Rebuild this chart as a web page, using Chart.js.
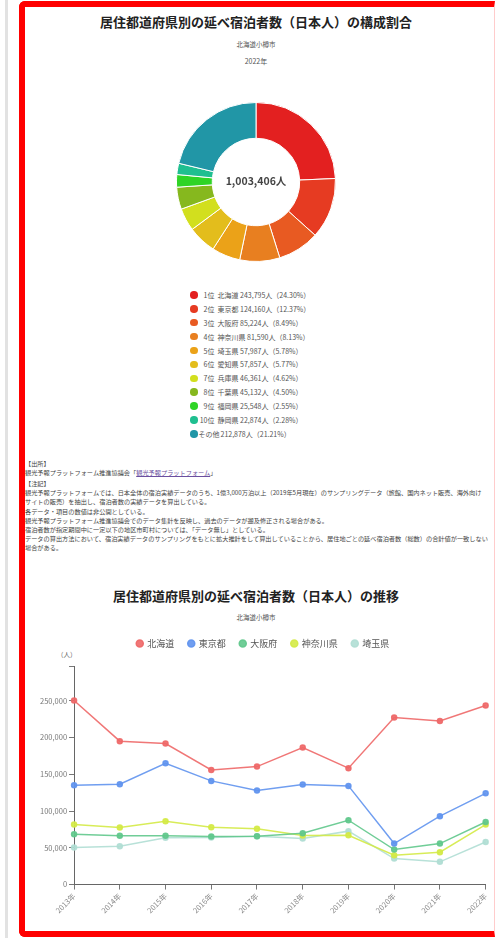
<!DOCTYPE html>
<html lang="ja">
<head>
<meta charset="utf-8">
<script src="https://cdn.jsdelivr.net/npm/chart.js@4.4.1/dist/chart.umd.min.js"></script>
<style>
  html, body { margin:0; padding:0; background:#fff; }
  body { width:495px; height:938px; position:relative; overflow:hidden; font-family:"Noto Sans CJK JP","Noto Sans",sans-serif; color:#333; }
  .gray-rule { position:absolute; left:5px; top:0; width:3px; height:938px; background:#e2e2e2; }
  .frame { position:absolute; left:19px; top:1px; width:469px; height:924px; border:6px solid #ff0000; border-right:1px solid #ffcccc; border-radius:6px 0 0 6px; }
  .abs { position:absolute; white-space:nowrap; }
  .title { left:25px; width:462px; text-align:center; font-weight:bold; font-size:13px; line-height:16px; color:#222; }
  .sub { left:25px; width:462px; text-align:center; font-size:6.5px; line-height:8px; color:#555; }
  #donutWrap { position:absolute; left:176px; top:102px; width:160px; height:160px; }
  #centerText { position:absolute; left:176px; top:174px; width:160px; text-align:center; font-weight:bold; font-size:10.5px; line-height:14px; color:#444; }
  #pieLegend { position:absolute; left:190px; top:288px; font-size:7px; color:#555; }
  #pieLegend .row { height:13.9px; display:flex; align-items:center; white-space:nowrap; }
  #pieLegend .dot { width:7.5px; height:7.5px; border-radius:50%; margin-right:2px; flex:none; }
  #pieLegend .rank { display:inline-block; width:15px; text-align:right; flex:none; }
  #pieLegend .rest { margin-left:3px; }
  #notes { position:absolute; left:25px; top:459px; font-size:6.2px; line-height:9.2px; color:#444; }
  #notes div { white-space:nowrap; }
  #notes a { color:#6b4fa0; text-decoration:underline; }
  #lineWrap { position:absolute; left:20px; top:625px; width:474px; height:292px; }
  #unit { position:absolute; left:57px; top:650px; font-size:6.5px; line-height:8px; color:#666; }
</style>
</head>
<body>
<div class="gray-rule"></div>
<div class="frame"></div>

<div class="abs title" style="top:14px;">居住都道府県別の延べ宿泊者数（日本人）の構成割合</div>
<div class="abs sub" style="top:40px;">北海道小樽市</div>
<div class="abs sub" style="top:57px; font-size:7px;">2022年</div>

<div id="donutWrap"><canvas id="donut" width="160" height="160"></canvas></div>
<div id="centerText"></div>
<div id="pieLegend"></div>

<div id="notes">
  <div>【出所】</div>
  <div>観光予報プラットフォーム推進協議会「<a>観光予報プラットフォーム</a>」</div>
  <div style="margin-top:1.5px;">【注記】</div>
  <div>観光予報プラットフォームでは、日本全体の宿泊実績データのうち、1億3,000万泊以上（2019年5月現在）のサンプリングデータ（旅館、国内ネット販売、海外向け</div>
  <div>サイトの販売）を抽出し、宿泊者数の実績データを算出している。</div>
  <div>各データ・項目の数値は非公開としている。</div>
  <div>観光予報プラットフォーム推進協議会でのデータ集計を反映し、過去のデータが遡及修正される場合がある。</div>
  <div>宿泊者数が指定期間中に一定以下の地区市町村については、「データ無し」としている。</div>
  <div>データの算出方法において、宿泊実績データのサンプリングをもとに拡大推計をして算出していることから、居住地ごとの延べ宿泊者数（総数）の合計値が一致しない</div>
  <div>場合がある。</div>
</div>

<div class="abs title" style="top:588px;">居住都道府県別の延べ宿泊者数（日本人）の推移</div>
<div class="abs sub" style="top:613px;">北海道小樽市</div>
<div id="unit">（人）</div>
<div id="lineWrap"><canvas id="line" width="474" height="292"></canvas></div>

<script>
// ---- Composition (2022) ----
const prefRanks  = ['1位','2位','3位','4位','5位','6位','7位','8位','9位','10位','その他'];
const prefNames  = ['北海道','東京都','大阪府','神奈川県','埼玉県','愛知県','兵庫県','千葉県','福岡県','静岡県',''];
const prefValues = [243795,124160,85224,81590,57987,57857,46361,45132,25548,22874,212878];
const prefShares = ['24.30','12.37','8.49','8.13','5.78','5.77','4.62','4.50','2.55','2.28','21.21'];
const prefColors = ['#e32020','#e63b22','#e85a22','#e87f20','#eba218','#e3bd1c','#d2df1e','#86b81e','#2fd426','#1fbf90','#2196a6'];
const totalLabel = '1,003,406人';

// ---- Trend ----
const years = ['2013年','2014年','2015年','2016年','2017年','2018年','2019年','2020年','2021年','2022年'];
const hokkaido = [250500,195200,191900,156100,160600,186500,158400,227300,222800,243795];
const tokyo    = [135300,136600,165200,141100,127900,136100,134300,55800,93100,124160];
const osaka    = [68600,66300,66300,65300,65900,70000,87600,47600,55800,85224];
const kanagawa = [81700,77600,86300,78100,75800,66700,67200,40000,44100,81590];
const saitama  = [50400,52300,63600,64000,65900,62600,72700,35400,30900,57987];
const seriesNames = ['北海道','東京都','大阪府','神奈川県','埼玉県'];
const seriesColors = ['rgba(238,104,104,0.9)','rgba(96,148,238,0.9)','rgba(96,200,140,0.9)','rgba(212,234,70,0.9)','rgba(176,222,212,0.9)'];
const yTicks = [0,50000,100000,150000,200000,250000];

Chart.defaults.font.family = '"Noto Sans CJK JP","Noto Sans",sans-serif';

document.getElementById('centerText').textContent = totalLabel;

const leg = document.getElementById('pieLegend');
prefRanks.forEach((r,i)=>{
  const row = document.createElement('div'); row.className='row';
  const dot = document.createElement('span'); dot.className='dot'; dot.style.background = prefColors[i];
  const rank = document.createElement('span'); rank.className='rank'; rank.textContent = r;
  if (i === prefRanks.length-1) { rank.style.width='auto'; rank.style.marginLeft='-1px'; }
  const rest = document.createElement('span'); rest.className='rest';
  const nm = prefNames[i] ? prefNames[i] + ' ' : '';
  rest.textContent = nm + prefValues[i].toLocaleString('en-US') + '人（' + prefShares[i] + '%）';
  if (i === prefRanks.length-1) rest.style.marginLeft='1px';
  row.appendChild(dot); row.appendChild(rank); row.appendChild(rest);
  leg.appendChild(row);
});

new Chart(document.getElementById('donut'), {
  type:'doughnut',
  data:{ labels: prefRanks.map((r,i)=>r+' '+prefNames[i]), datasets:[{ data: prefValues, backgroundColor: prefColors, borderColor:'#ffffff', borderWidth:1 }] },
  options:{ responsive:false, animation:false, cutout:'55%', layout:{padding:0},
    plugins:{ legend:{display:false}, tooltip:{enabled:false} } }
});

const dsList = [hokkaido,tokyo,osaka,kanagawa,saitama].map((d,i)=>({
  label: seriesNames[i], data:d, borderColor: seriesColors[i], backgroundColor: seriesColors[i],
  pointBackgroundColor: seriesColors[i], pointBorderColor: seriesColors[i],
  borderWidth:1.5, pointRadius:2.5, tension:0, fill:false
}));

// extra space below the legend
const legendSpacer = {
  id:'legendSpacer',
  beforeInit(chart){
    const origFit = chart.legend.fit;
    chart.legend.fit = function(){ origFit.bind(chart.legend)(); this.height += 8; };
  }
};

new Chart(document.getElementById('line'), {
  type:'line',
  data:{ labels: years, datasets: dsList },
  plugins:[legendSpacer],
  options:{
    responsive:false, animation:false,
    layout:{ padding:{ left:18, right:6, top:0, bottom:0 } },
    plugins:{
      legend:{ position:'top', labels:{ usePointStyle:true, pointStyle:'circle', boxWidth:6, boxHeight:5, padding:14, color:'#555', font:{size:9} } },
      tooltip:{enabled:false}
    },
    scales:{
      x:{ grid:{ display:true, drawOnChartArea:false, drawTicks:true, tickLength:5, color:'#777' },
          border:{ color:'#666', width:1 },
          ticks:{ color:'#888', font:{size:7.5}, maxRotation:45, minRotation:45, autoSkip:false, padding:2 } },
      y:{ min:0, max:297500,
          afterBuildTicks:(axis)=>{ axis.ticks = yTicks.map(v=>({value:v})).concat([{value:297500}]); },
          grid:{ display:true, drawOnChartArea:false, drawTicks:true, tickLength:5, color:'#777' },
          border:{ color:'#666', width:1 },
          ticks:{ color:'#777', font:{size:7.5}, padding:2, callback:(v)=> yTicks.includes(v) ? v.toLocaleString('en-US') : '' } }
    }
  }
});
</script>
</body>
</html>
